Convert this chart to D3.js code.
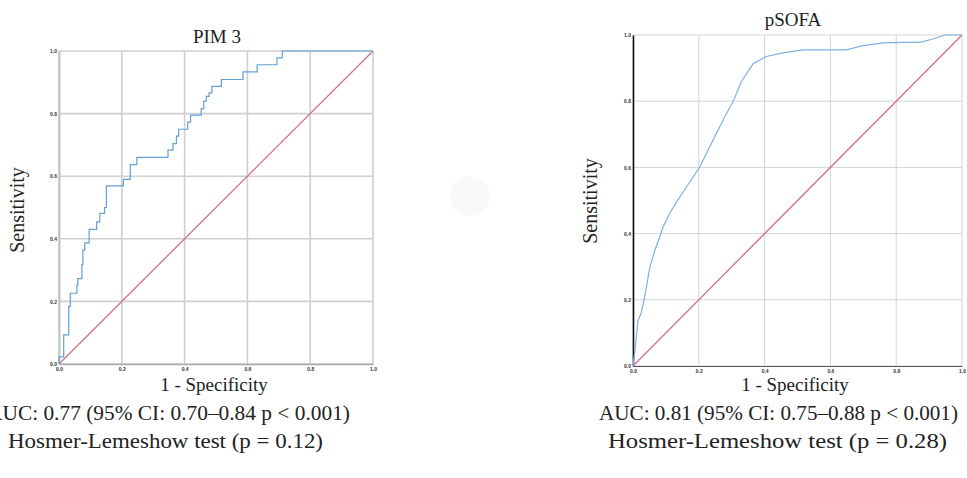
<!DOCTYPE html>
<html lang="en">
<head>
    <meta charset="UTF-8">
    <title>ROC curves</title>
    <script src="https://d3js.org/d3.v7.min.js"></script>
    <style>
        body { margin: 0; background: #fff; }
        .lbl { font-family: "Liberation Serif", "DejaVu Serif", serif; fill: #222; }
        .tick text { font: bold 5px "Liberation Sans", sans-serif; fill: #333; }
    </style>
</head>
<body>
    <script>
        // tick values shared by both panels
        const ticks = [0, 0.2, 0.4, 0.6, 0.8, 1.0];

        // PIM 3 ROC (step curve: fpr, tpr at top of each step)
        const pimFpr = [0, 0, 0.015, 0.031, 0.036, 0.057, 0.060, 0.073, 0.076, 0.082, 0.096, 0.120, 0.130, 0.145, 0.151, 0.205, 0.227, 0.248, 0.347, 0.363, 0.374, 0.381, 0.410, 0.419, 0.453, 0.461, 0.469, 0.478, 0.487, 0.517, 0.586, 0.631, 0.694, 0.711, 1.0];
        const pimTpr = [0, 0.023, 0.093, 0.183, 0.226, 0.252, 0.273, 0.318, 0.364, 0.387, 0.430, 0.454, 0.481, 0.500, 0.569, 0.590, 0.637, 0.660, 0.683, 0.704, 0.728, 0.750, 0.773, 0.795, 0.816, 0.840, 0.855, 0.866, 0.887, 0.909, 0.933, 0.956, 0.978, 1.0, 1.0];

        // pSOFA ROC
        const sofaFpr = [0, 0.007, 0.015, 0.025, 0.035, 0.044, 0.051, 0.066, 0.081, 0.091, 0.111, 0.132, 0.162, 0.203, 0.223, 0.253, 0.279, 0.304, 0.329, 0.365, 0.405, 0.456, 0.517, 0.578, 0.648, 0.699, 0.760, 0.821, 0.871, 0.912, 0.947, 1.0];
        const sofaTpr = [0, 0.055, 0.136, 0.161, 0.206, 0.257, 0.298, 0.348, 0.389, 0.419, 0.460, 0.495, 0.540, 0.601, 0.642, 0.702, 0.753, 0.798, 0.859, 0.913, 0.935, 0.946, 0.955, 0.955, 0.955, 0.968, 0.976, 0.978, 0.978, 0.988, 1.0, 1.0];

        const svg = d3.select("body").append("svg")
            .attr("width", 967)
            .attr("height", 478);

        // faint blob in the middle of the picture
        svg.append("circle").attr("cx", 470).attr("cy", 196).attr("r", 20).attr("fill", "#f9f9f9");

        function panel(opt) {
            const x = d3.scaleLinear().domain([0, 1]).range([opt.left, opt.right]);
            const y = d3.scaleLinear().domain([0, 1]).range([opt.bottom, opt.top]);
            const g = svg.append("g");

            // grid
            g.append("g").selectAll("line").data(ticks).enter().append("line")
                .attr("x1", d => x(d)).attr("x2", d => x(d))
                .attr("y1", y(0)).attr("y2", y(1))
                .attr("stroke", opt.grid).attr("stroke-width", opt.gridW);
            g.append("g").selectAll("line").data(ticks).enter().append("line")
                .attr("y1", d => y(d)).attr("y2", d => y(d))
                .attr("x1", x(0)).attr("x2", x(1))
                .attr("stroke", opt.grid).attr("stroke-width", opt.gridW);

            // axes
            const ax = g.append("g").attr("transform", `translate(0,${y(0)})`)
                .call(d3.axisBottom(x).tickValues(ticks).tickSize(0).tickPadding(3).tickFormat(d3.format(".1f")));
            ax.select(".domain").attr("stroke", opt.xAxis).attr("stroke-width", opt.xAxisW);
            const ay = g.append("g").attr("transform", `translate(${x(0)},0)`)
                .call(d3.axisLeft(y).tickValues(ticks).tickSize(0).tickPadding(2).tickFormat(d3.format(".1f")));
            ay.select(".domain").attr("stroke", opt.yAxis).attr("stroke-width", opt.yAxisW);

            // reference diagonal
            g.append("line")
                .attr("x1", x(0)).attr("y1", y(0)).attr("x2", x(1)).attr("y2", y(1))
                .attr("stroke", "#d2708a").attr("stroke-width", 1.3);

            // roc curve
            const pts = opt.fpr.map((f, i) => [f, opt.tpr[i]]);
            const line = d3.line().x(d => x(d[0])).y(d => y(d[1])).curve(opt.curve);
            g.append("path").datum(pts)
                .attr("d", line)
                .attr("fill", "none")
                .attr("stroke", opt.color)
                .attr("stroke-width", 1.2);

            // labels
            g.append("text").attr("class", "lbl")
                .attr("x", opt.titleX).attr("y", opt.titleY)
                .attr("text-anchor", "middle").attr("font-size", opt.titleSize)
                .text(opt.title);
            g.append("text").attr("class", "lbl")
                .attr("x", opt.xlabX).attr("y", 391)
                .attr("text-anchor", "middle").attr("font-size", 19)
                .text("1 - Specificity");
            g.append("text").attr("class", "lbl")
                .attr("transform", `translate(${opt.ylabX},${opt.ylabY}) rotate(-90)`)
                .attr("text-anchor", "middle").attr("font-size", 20)
                .text("Sensitivity");

            opt.notes.forEach(n => {
                g.append("text").attr("class", "lbl")
                    .attr("x", n.x).attr("y", n.y)
                    .attr("font-size", 21)
                    .attr("textLength", n.w).attr("lengthAdjust", "spacingAndGlyphs")
                    .text(n.t);
            });
        }

        panel({
            left: 59, right: 373, top: 51, bottom: 364,
            grid: "#cfcfcf", gridW: 1.6, xAxis: "#aaa", xAxisW: 1.6, yAxis: "#c4c4c4", yAxisW: 2,
            fpr: pimFpr, tpr: pimTpr, curve: d3.curveStepAfter, color: "#62a0d8",
            title: "PIM 3", titleX: 217, titleY: 43, titleSize: 19,
            xlabX: 214, ylabX: 24, ylabY: 210,
            notes: [
                { t: "AUC: 0.77 (95% CI: 0.70\u20130.84 p < 0.001)", x: -13, y: 420, w: 363 },
                { t: "Hosmer-Lemeshow test (p = 0.12)", x: 8, y: 448, w: 315 }
            ]
        });

        panel({
            left: 633, right: 962, top: 35, bottom: 366,
            grid: "#d4d4d4", gridW: 1, xAxis: "#555", xAxisW: 1.2, yAxis: "#111", yAxisW: 1.6,
            fpr: sofaFpr, tpr: sofaTpr, curve: d3.curveLinear, color: "#7fb1e2",
            title: "pSOFA", titleX: 793, titleY: 26, titleSize: 19,
            xlabX: 795, ylabX: 597, ylabY: 201,
            notes: [
                { t: "AUC: 0.81 (95% CI: 0.75\u20130.88 p < 0.001)", x: 599, y: 420, w: 359 },
                { t: "Hosmer-Lemeshow test (p = 0.28)", x: 608, y: 448, w: 339 }
            ]
        });
    </script>
</body>
</html>
